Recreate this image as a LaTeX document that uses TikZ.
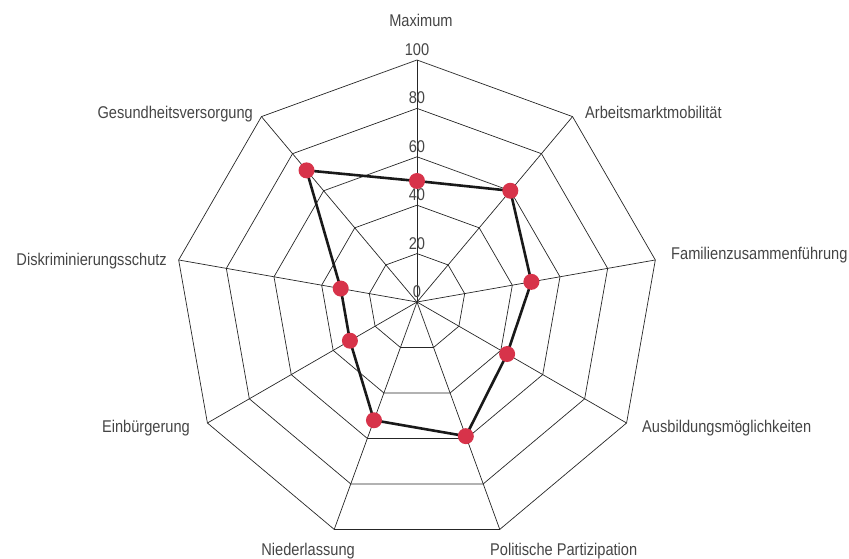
\documentclass[tikz,border=0pt]{standalone}
\usepackage{fontspec}
\setmainfont[FakeStretch=0.86]{Liberation Sans}
\usetikzlibrary{positioning}
\definecolor{dotred}{HTML}{D7334A}
\definecolor{labelgrey}{HTML}{454545}

\begin{document}
\begin{tikzpicture}[x=1pt, y=1pt,
gridline/.style={draw=black!85, line width=0.7pt},
dataline/.style={draw=black!90, line width=2.6pt, line join=round},
datadot/.style={circle, fill=dotred, inner sep=0pt, minimum size=16pt},
axislabel/.style={text=labelgrey, font=\fontsize{17}{19}\selectfont, inner sep=0pt},
ticklabel/.style={text=labelgrey, font=\fontsize{17}{19}\selectfont, inner sep=0pt, anchor=base},
]
\useasboundingbox (-417,-257) rectangle (432,302);

%Coordinates
\coordinate (c) at (0,0);
\foreach \k in {0,...,8}
  \coordinate (v\k) at (90-40*\k:242);
\foreach \val [count=\k from 0] in {50,60,48,43,59,52,32,32,71}
  \coordinate (d\k) at (90-40*\k:2.42*\val);

%Grid
\foreach \r in {1,...,5}
  \draw[gridline] (90:48.4*\r) \foreach \k in {1,...,8} { -- (90-40*\k:48.4*\r) } -- cycle;
\foreach \k in {0,...,8}
  \draw[gridline] (c) -- (v\k);

%Scale
\foreach \r/\txt in {0/0,1/20,2/40,3/60,4/80,5/100}
  \node[ticklabel] (tick\r) at (0,48.4*\r+4.5) {\txt};

%Labels
\node[axislabel]                   (maximum)  at (4,282)     {Maximum};
\node[axislabel, anchor=base west] (arbeit)   at (168,183)   {Arbeitsmarktmobilität};
\node[axislabel, anchor=base west] (familie)  at (254,42)    {Familienzusammenführung};
\node[axislabel, anchor=base west] (bildung)  at (225,-131)  {Ausbildungsmöglichkeiten};
\node[axislabel, anchor=base west] (politik)  at (73,-253)   {Politische Partizipation};
\node[axislabel, anchor=base east] (nieder)   at (-62,-253)  {Niederlassung};
\node[axislabel, anchor=base east] (einbuerg) at (-227,-131) {Einbürgerung};
\node[axislabel, anchor=base east] (diskrim)  at (-250,36.5) {Diskriminierungsschutz};
\node[axislabel, anchor=base east] (gesund)   at (-164,183)  {Gesundheitsversorgung};

%Data
\draw[dataline] (d0) \foreach \k in {1,...,8} { -- (d\k) } -- cycle;
\foreach \k in {0,...,8}
  \node[datadot] (dot\k) at (d\k) {};
\end{tikzpicture}
\end{document}
